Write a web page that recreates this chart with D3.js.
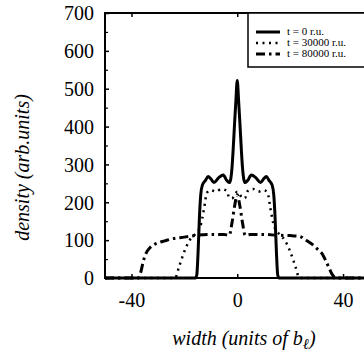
<!DOCTYPE html>
<html>
<head>
<meta charset="utf-8">
<script src="https://cdn.jsdelivr.net/npm/d3@7"></script>
<style>
  body { margin: 0; background: #fff; }
  svg { display: block; }
</style>
</head>
<body>
<div id="chart"></div>
<script>
// Daten
const xTicks = [-40, 0, 40];
const yTicks = [0, 100, 200, 300, 400, 500, 600, 700];
const yMinor = [50, 150, 250, 350, 450, 550, 650];

const legendLabels = ["t = 0 r.u.", "t = 30000 r.u.", "t = 80000 r.u."];

// t = 0
const solidX = [-50, -15.8, -15.3, -14.8, -14.3, -13.8, -13.2, -12, -11, -10, -8.8, -7, -5.3, -4, -3, -2.5, -2, -1.5, -1, -0.5, 0, 0.5, 1, 1.5, 2, 2.5, 3, 4, 5.3, 7, 8.8, 10, 11, 12, 13.2, 13.8, 14.3, 14.8, 15.3, 15.8, 50];
const solidY = [0, 0, 8, 70, 160, 220, 245, 258, 268, 262, 252, 265, 272, 258, 252, 260, 290, 345, 410, 470, 522, 470, 410, 345, 290, 260, 252, 258, 272, 265, 252, 262, 268, 258, 245, 220, 160, 70, 8, 0, 0];

// t = 30000
const dotX = [-50, -23.5, -22, -20, -18, -16, -14, -12.5, -11.5, -10, -8, -6, -4, -3, -2, -1, 0, 1, 2, 3, 4, 6, 8, 10, 11.5, 12.5, 14, 16, 18, 20, 22, 23.5, 50];
const dotY = [0, 0, 30, 70, 100, 115, 135, 185, 225, 232, 228, 235, 230, 212, 210, 220, 228, 220, 210, 212, 230, 235, 228, 232, 225, 185, 135, 115, 100, 70, 30, 0, 0];

// t = 80000
const dashX = [-50, -37.5, -36.5, -35.5, -34.5, -33, -31.5, -29, -27.5, -25, -20, -15, -10, -5, -3, -2, -1, 0, 1, 2, 3, 5, 10, 15, 20, 23.5, 26, 28.5, 30.5, 32, 33.5, 34.5, 36, 37.5, 50];
const dashY = [0, 0, 15, 45, 65, 80, 88, 95, 98, 103, 108, 113, 115, 115, 113, 145, 190, 220, 190, 145, 113, 115, 115, 113, 112, 110, 100, 88, 75, 65, 45, 30, 8, 0, 0];

const W = 364, H = 356;
const margin = { left: 105, top: 13, bottom: 78 };
const serif = "Liberation Serif";

const svg = d3.select("#chart").append("svg")
    .attr("width", W)
    .attr("height", H)
    .attr("font-family", serif);

const x = d3.scaleLinear().domain([-50, 50]).range([margin.left, 369.5]);
const y = d3.scaleLinear().domain([0, 700]).range([H - margin.bottom, margin.top]);

// Kurven
const line = d3.line().x(d => x(d[0])).y(d => y(d[1])).curve(d3.curveMonotoneX);

const series = [
    { xs: solidX, ys: solidY, width: 3, dash: null },
    { xs: dotX, ys: dotY, width: 2.5, dash: "2,4.5" },
    { xs: dashX, ys: dashY, width: 3, dash: "9,4,2.5,4" }
];

series.forEach(s => {
    svg.append("path")
        .datum(s.xs.map((v, i) => [v, s.ys[i]]))
        .attr("d", line)
        .attr("fill", "none")
        .attr("stroke", "#000")
        .attr("stroke-width", s.width)
        .attr("stroke-dasharray", s.dash);
});

// Rahmen
svg.append("rect")
    .attr("x", x(-50))
    .attr("y", y(700))
    .attr("width", x(50) - x(-50))
    .attr("height", y(0) - y(700))
    .attr("fill", "none")
    .attr("stroke", "#000")
    .attr("stroke-width", 2);

// Achsen (Ticks nach innen)
const xAxis = d3.axisBottom(x).tickValues(xTicks).tickSize(-4).tickFormat(d => String(d));
svg.append("g")
    .attr("transform", `translate(0,${y(0)})`)
    .call(xAxis)
    .attr("font-family", serif)
    .call(g => g.select(".domain").remove())
    .call(g => g.selectAll("line").attr("stroke-width", 1.5))
    .call(g => g.selectAll("text")
        .attr("dy", 0)
        .attr("y", 29)
        .attr("font-size", 20)
        .attr("fill", "#000"));

svg.append("g")
    .attr("transform", `translate(0,${y(700)})`)
    .call(d3.axisTop(x).tickValues(xTicks).tickSize(-4).tickFormat(""))
    .call(g => g.select(".domain").remove())
    .call(g => g.selectAll("line").attr("stroke-width", 1.5));

const yAxis = d3.axisLeft(y).tickValues(yTicks).tickSize(-4).tickFormat(d => String(d));
svg.append("g")
    .attr("transform", `translate(${x(-50)},0)`)
    .call(yAxis)
    .attr("font-family", serif)
    .call(g => g.select(".domain").remove())
    .call(g => g.selectAll("line").attr("stroke-width", 1.5))
    .call(g => g.selectAll("text")
        .attr("x", -11)
        .attr("dy", "0.34em")
        .attr("font-size", 20)
        .attr("fill", "#000"));

svg.append("g")
    .attr("transform", `translate(${x(-50)},0)`)
    .call(d3.axisLeft(y).tickValues(yMinor).tickSize(-3).tickFormat(""))
    .call(g => g.select(".domain").remove())
    .call(g => g.selectAll("line").attr("stroke-width", 1.2));

// Achsentitel
svg.append("text")
    .attr("transform", `translate(29,${(y(0) + y(700)) / 2 + 22}) rotate(-90)`)
    .attr("text-anchor", "middle")
    .attr("font-style", "italic")
    .attr("font-size", 20)
    .text("density (arb.units)");

const xLabel = svg.append("text")
    .attr("x", 244)
    .attr("y", 345)
    .attr("text-anchor", "middle")
    .attr("font-style", "italic")
    .attr("font-size", 20);
xLabel.append("tspan").text("width (units of b");
xLabel.append("tspan").attr("dy", 4).attr("font-size", 15).text("ℓ");
xLabel.append("tspan").attr("dy", -4).text(")");

// Legende
const legend = svg.append("g");
legend.append("rect")
    .attr("x", 248)
    .attr("y", y(700))
    .attr("width", 130)
    .attr("height", 54)
    .attr("fill", "#fff")
    .attr("stroke", "#000")
    .attr("stroke-width", 1.5);

legendLabels.forEach((lbl, i) => {
    const ly = 35 + i * 11;
    legend.append("line")
        .attr("x1", 256).attr("x2", 280)
        .attr("y1", ly - 3).attr("y2", ly - 3)
        .attr("stroke", "#000")
        .attr("stroke-width", series[i].width)
        .attr("stroke-dasharray", series[i].dash);
    legend.append("text")
        .attr("x", 287)
        .attr("y", ly)
        .attr("font-size", 11)
        .text(lbl);
});
</script>
</body>
</html>
